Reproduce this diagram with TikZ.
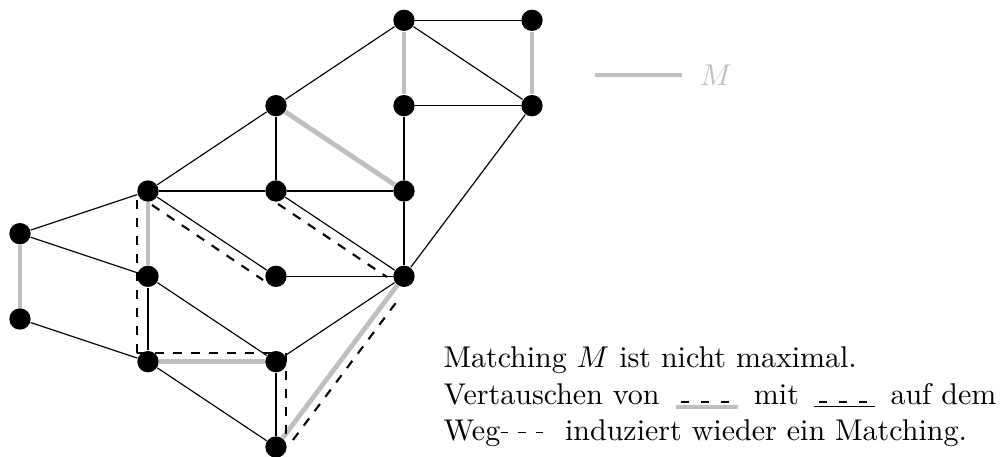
\documentclass[tikz,border=0pt]{standalone}
\usetikzlibrary{backgrounds}
\tikzset{
  vtx/.style={circle, fill=black, inner sep=0pt, minimum size=0.25cm},
  edge/.style={black, line width=0.4pt},
  medge/.style={lightgray, line width=1.6pt},
  pathdash/.style={black, dashed, line width=0.7pt},
  symdash/.style={black, line width=0.5pt, dash pattern=on 2.7pt off 4pt},
  txt/.style={anchor=base west, inner sep=0pt}
}
\newcommand{\symGray}{\hspace{1.5pt}\tikz[baseline=0pt]{\draw[lightgray, line width=1.3pt] (0,-0.03) -- (0.72,-0.03); \draw[symdash] (0.06,0.025) -- (0.66,0.025);}\hspace{1.5pt}}
\newcommand{\symBlack}{\hspace{1.5pt}\tikz[baseline=0pt]{\draw[black, line width=0.4pt] (0,-0.03) -- (0.72,-0.03); \draw[symdash] (0.06,0.025) -- (0.66,0.025);}\hspace{1.5pt}}
\newcommand{\symPath}{\tikz[baseline=0pt]{\draw[black, line width=0.45pt, dash pattern=on 2.4pt off 3.4pt] (0.03,0.09) -- (0.54,0.09);}}
\begin{document}
\begin{tikzpicture}
\useasboundingbox (-0.234,-0.117) rectangle (11.496,5.238);
% vertices
\node[vtx] (A) at (0,2.5) {};
\node[vtx] (B) at (0,1.5) {};
\node[vtx] (C) at (1.5,3) {};
\node[vtx] (D) at (1.5,2) {};
\node[vtx] (E) at (1.5,1) {};
\node[vtx] (F) at (3,4) {};
\node[vtx] (G) at (3,3) {};
\node[vtx] (H) at (3,2) {};
\node[vtx] (I) at (3,1) {};
\node[vtx] (J) at (3,0) {};
\node[vtx] (K) at (4.5,5) {};
\node[vtx] (L) at (4.5,4) {};
\node[vtx] (N) at (4.5,3) {};
\node[vtx] (O) at (4.5,2) {};
\node[vtx] (P) at (6,5) {};
\node[vtx] (Q) at (6,4) {};
% augmenting path coordinates
\coordinate (d1a) at (1.547,2.836);
\coordinate (d1b) at (2.848,1.957);
\coordinate (d2a) at (1.371,2.895);
\coordinate (d2b) at (1.371,1.043);
\coordinate (d3a) at (1.371,1.102);
\coordinate (d3b) at (3.0,1.102);
\coordinate (d4a) at (3.117,1.102);
\coordinate (d4b) at (3.117,0.082);
\coordinate (d5a) at (3.199,0.082);
\coordinate (d5b) at (4.43,1.723);
\coordinate (d6a) at (3.024,2.848);
\coordinate (d6b) at (4.30,1.992);
\begin{pgfonlayer}{background}
% matching edges
\draw[medge] (A) -- (B);
\draw[medge] (C) -- (D);
\draw[medge] (E) -- (I);
\draw[medge] (J) -- (O);
\draw[medge] (F) -- (N);
\draw[medge] (K) -- (L);
\draw[medge] (P) -- (Q);
% other edges
\draw[edge] (A) -- (C);
\draw[edge] (A) -- (D);
\draw[edge] (B) -- (E);
\draw[edge] (C) -- (F);
\draw[edge] (C) -- (G);
\draw[edge] (C) -- (H);
\draw[edge] (D) -- (E);
\draw[edge] (D) -- (I);
\draw[edge] (E) -- (J);
\draw[edge] (I) -- (J);
\draw[edge] (I) -- (O);
\draw[edge] (H) -- (O);
\draw[edge] (G) -- (N);
\draw[edge] (F) -- (G);
\draw[edge] (G) -- (O);
\draw[edge] (F) -- (K);
\draw[edge] (K) -- (P);
\draw[edge] (K) -- (Q);
\draw[edge] (L) -- (Q);
\draw[edge] (L) -- (N);
\draw[edge] (N) -- (O);
\draw[edge] (Q) -- (O);
% augmenting path
\draw[pathdash] (d1a) -- (d1b);
\draw[pathdash] (d2a) -- (d2b);
\draw[pathdash] (d3a) -- (d3b);
\draw[pathdash] (d4a) -- (d4b);
\draw[pathdash] (d5a) -- (d5b);
\draw[pathdash] (d6a) -- (d6b);
\end{pgfonlayer}
% legend
\coordinate (lg1) at (6.738,4.36);
\coordinate (lg2) at (7.754,4.36);
\draw[medge] (lg1) -- (lg2);
\node[text=lightgray] (lgM) at (8.157,4.36) {$M$};
% text
\node[txt] (t1) at (4.957,0.926) {Matching $M$ ist nicht maximal.};
\node[txt] (t2) at (4.957,0.504) {Vertauschen von \symGray{} mit \symBlack{} auf dem};
\node[txt] (t3) at (4.957,0.082) {Weg\symPath{} \ induziert wieder ein Matching.};
\end{tikzpicture}
\end{document}
